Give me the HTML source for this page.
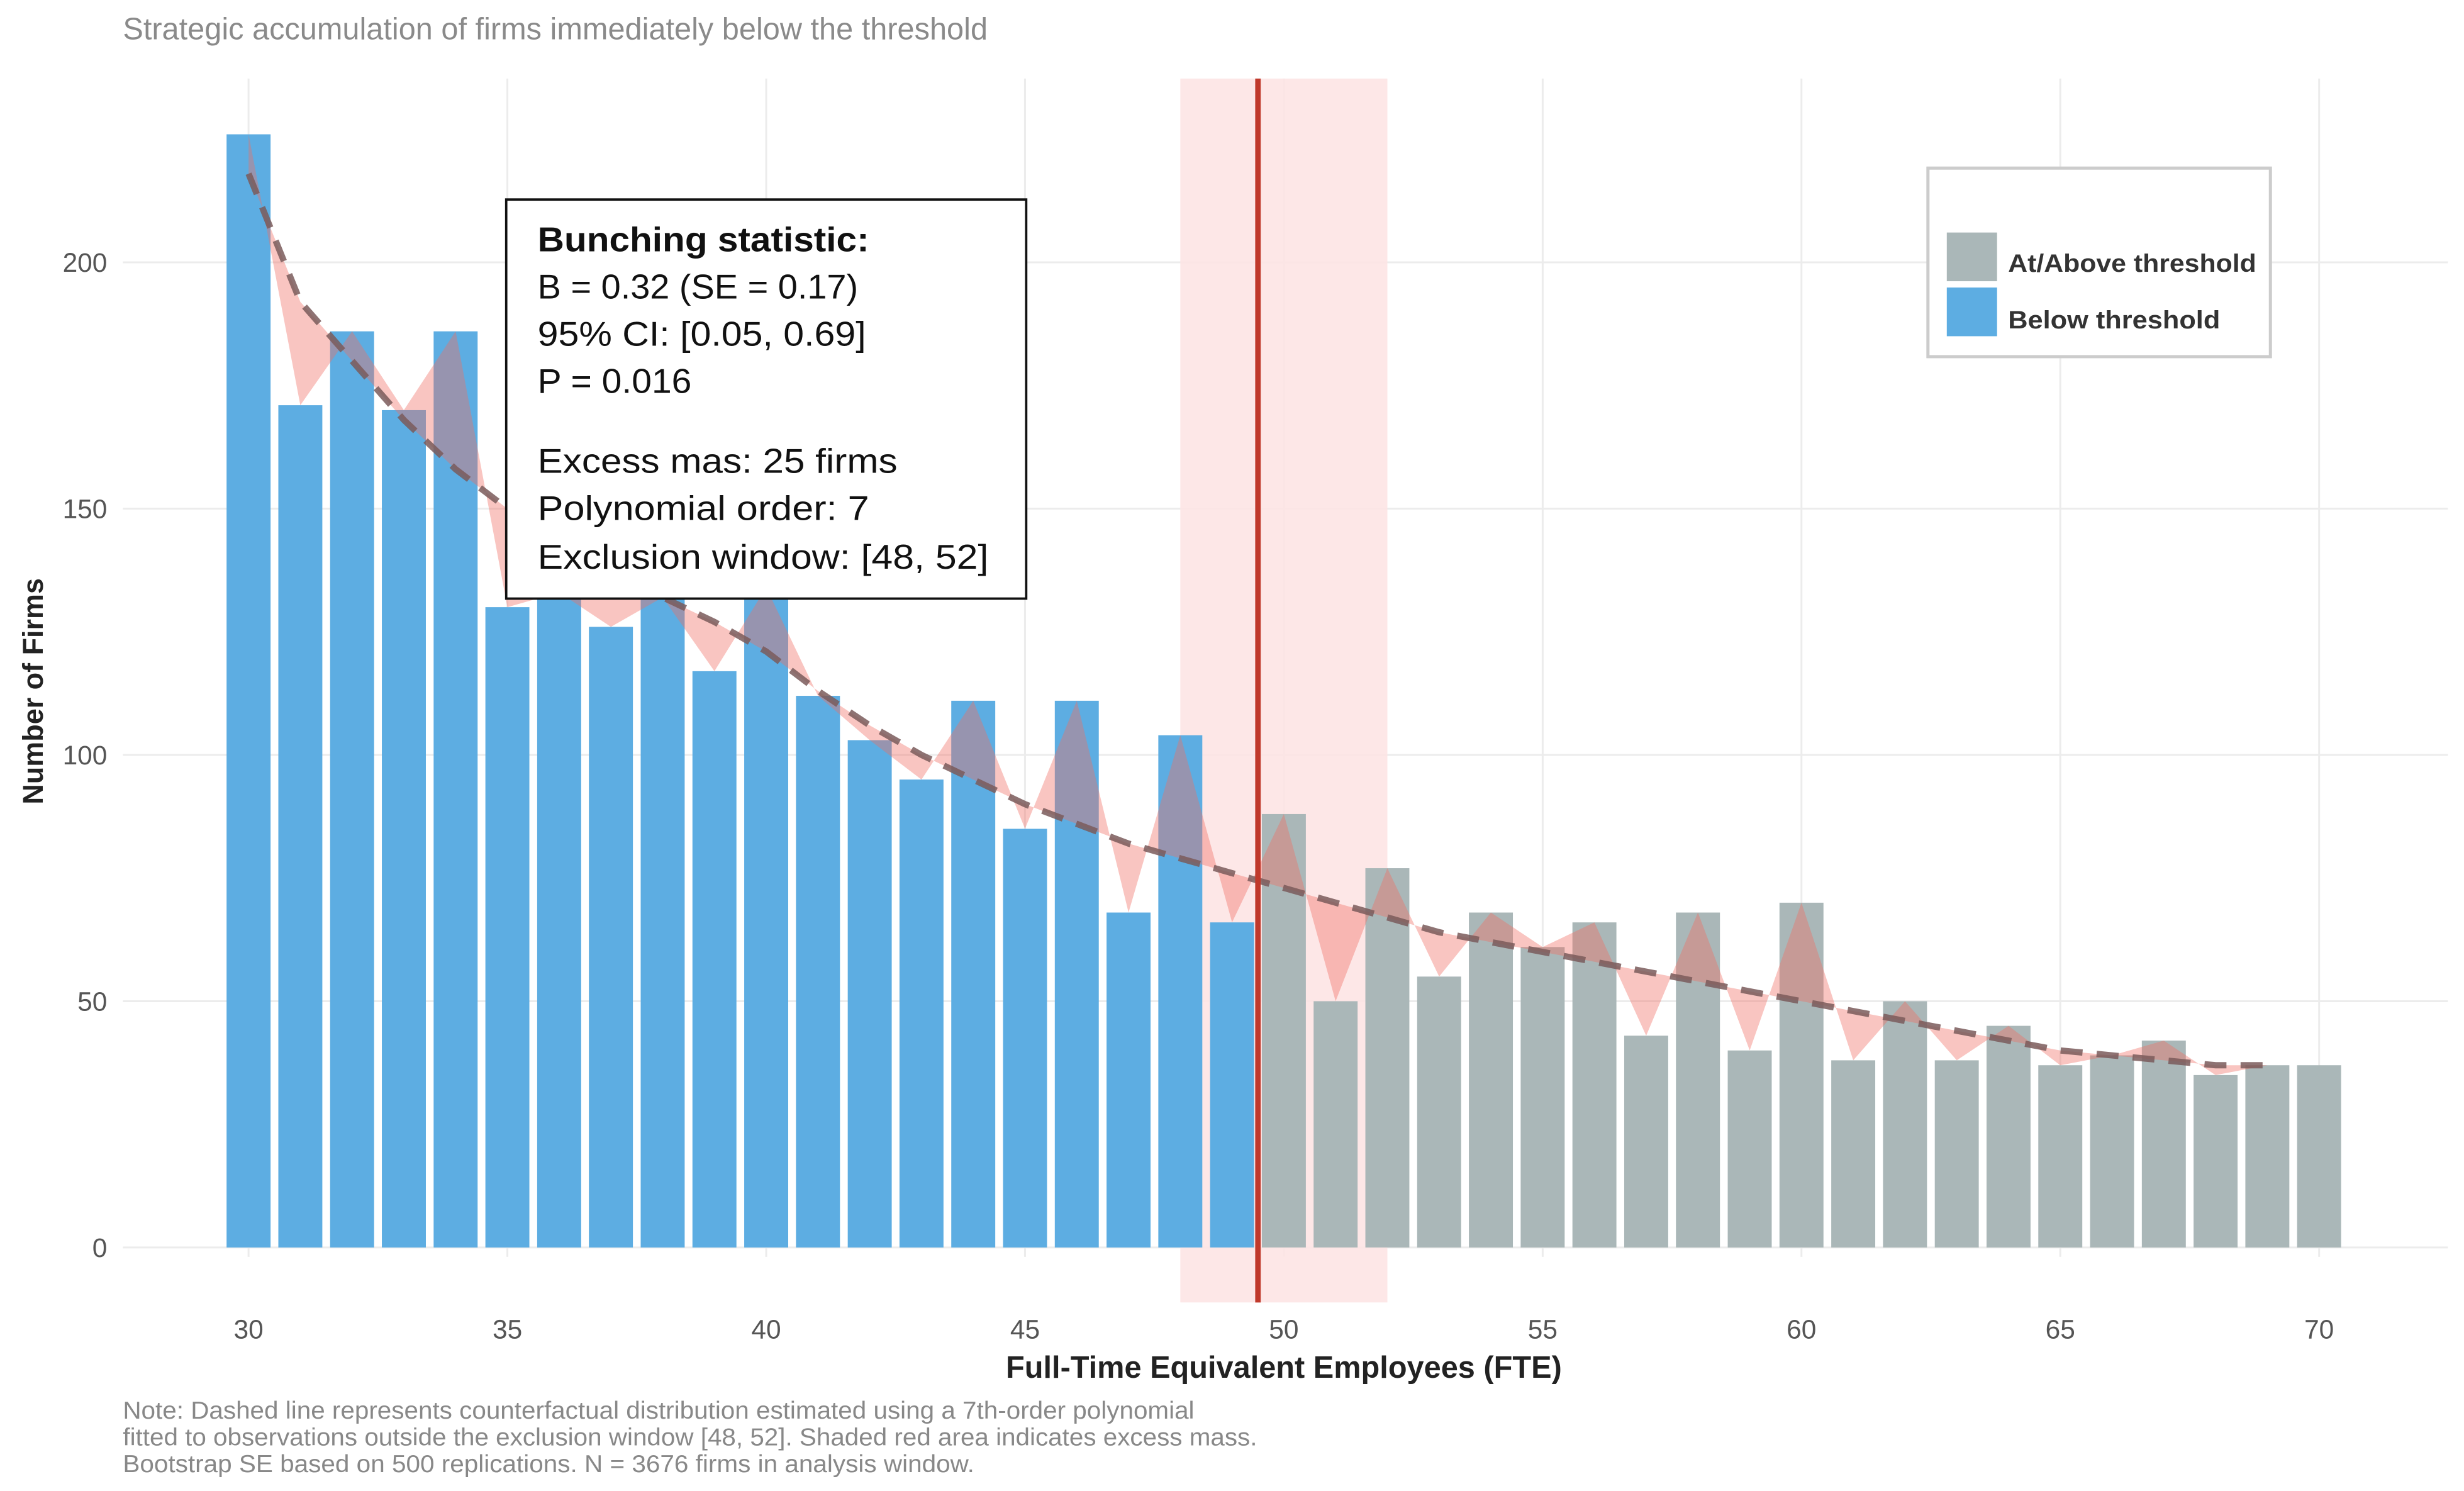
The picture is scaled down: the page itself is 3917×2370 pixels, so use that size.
<!DOCTYPE html>
<html><head><meta charset="utf-8"><style>
html,body{margin:0;padding:0;background:#fff;}
svg{display:block;}
text{font-family:"Liberation Sans",sans-serif;}
</style></head><body>
<svg id="chart" width="3917" height="2370" viewBox="0 0 1568 949" xmlns="http://www.w3.org/2000/svg">
<rect width="1568" height="949" fill="#fff"/>
<text x="78" y="25" font-size="19.5" fill="#8a8a8a">Strategic accumulation of firms immediately below the threshold</text>
<g id="grid"></g>
<rect id="band" fill="#fde4e4" opacity="0.9"/>
<g id="bars"></g>
<g id="excess"></g>
<g id="cf"></g>
<line id="thr" stroke="#c0392b" stroke-width="3.5"/>
<g id="axes"></g>
<text x="817" y="877" font-size="19.5" font-weight="bold" text-anchor="middle" fill="#222">Full-Time Equivalent Employees (FTE)</text>
<text transform="translate(27,440) rotate(-90)" font-size="18" font-weight="bold" text-anchor="middle" fill="#222">Number of Firms</text>
<g>
<rect x="322" y="127" width="331" height="254" fill="#fff" stroke="#111" stroke-width="1.5"/>
<text x="342" y="160" font-size="22" font-weight="bold" fill="#111" textLength="211" lengthAdjust="spacingAndGlyphs">Bunching statistic:</text>
<text x="342" y="190" font-size="22" fill="#111" textLength="204" lengthAdjust="spacingAndGlyphs">B = 0.32 (SE = 0.17)</text>
<text x="342" y="220" font-size="22" fill="#111" textLength="209" lengthAdjust="spacingAndGlyphs">95% CI: [0.05, 0.69]</text>
<text x="342" y="250" font-size="22" fill="#111" textLength="98" lengthAdjust="spacingAndGlyphs">P = 0.016</text>
<text x="342" y="301" font-size="22" fill="#111" textLength="229" lengthAdjust="spacingAndGlyphs">Excess mas: 25 firms</text>
<text x="342" y="331" font-size="22" fill="#111" textLength="211" lengthAdjust="spacingAndGlyphs">Polynomial order: 7</text>
<text x="342" y="362" font-size="22" fill="#111" textLength="287" lengthAdjust="spacingAndGlyphs">Exclusion window: [48, 52]</text>
</g>
<g>
<rect x="1227" y="107" width="218" height="120" fill="#fff" stroke="#ccc" stroke-width="2"/>
<rect x="1239" y="148" width="32" height="31" fill="#aab7b8"/>
<text x="1278" y="173" font-size="16" font-weight="bold" fill="#333" textLength="158" lengthAdjust="spacingAndGlyphs">At/Above threshold</text>
<rect x="1239" y="183" width="32" height="31" fill="#5dade2"/>
<text x="1278" y="209" font-size="16" font-weight="bold" fill="#333" textLength="135" lengthAdjust="spacingAndGlyphs">Below threshold</text>
</g>
<g font-size="15.5" fill="#888">
<text x="78" y="903" textLength="682" lengthAdjust="spacingAndGlyphs">Note: Dashed line represents counterfactual distribution estimated using a 7th-order polynomial</text>
<text x="78" y="920" textLength="722" lengthAdjust="spacingAndGlyphs">fitted to observations outside the exclusion window [48, 52]. Shaded red area indicates excess mass.</text>
<text x="78" y="937" textLength="542" lengthAdjust="spacingAndGlyphs">Bootstrap SE based on 500 replications. N = 3676 firms in analysis window.</text>
</g>
</svg>
<script>
const categories=[30,31,32,33,34,35,36,37,38,39,40,41,42,43,44,45,46,47,48,49,50,51,52,53,54,55,56,57,58,59,60,61,62,63,64,65,66,67,68,69,70];
const counts=[226,171,186,170,186,130,133,126,132,117,134,112,103,95,111,85,111,68,104,66,88,50,77,55,68,61,66,43,68,40,70,38,50,38,45,37,39,42,35,37,37];
const counterfactual=[218,192,180,168,158,150,143,137,132,127,121,113,106,100,95,90,86,82,79,76,73,70,67,64,62,60,58,56,54,52,50,48,46,44,42,40,39,38,37,37];
const yTicks=[0,50,100,150,200];
const xTicks=[30,35,40,45,50,55,60,65,70];
const threshold=49.5, windowLo=48, windowHi=52;
(function(){
const NS="http://www.w3.org/2000/svg";
const X=v=>158+(v-30)*32.95;
const Y=v=>794-v*3.135;
function mk(tag,parent,attrs){const e=document.createElementNS(NS,tag);for(const k in attrs)e.setAttribute(k,attrs[k]);document.getElementById(parent).appendChild(e);return e;}
yTicks.forEach(t=>{
 const l=mk('line','grid',{x1:78,x2:1558,y1:Y(t),y2:Y(t),stroke:'#ececec','stroke-width':1.2});
 
 
 const tx=mk('text','axes',{x:68,y:Y(t)+6,'font-size':17,'text-anchor':'end',fill:'#555'});tx.textContent=t;
 
 
});
xTicks.forEach(t=>{
 const l=mk('line','grid',{x1:X(t),x2:X(t),y1:50,y2:800,stroke:'#ececec','stroke-width':1.2});
 
 
 const tx=mk('text','axes',{x:X(t),y:852,'font-size':17,'text-anchor':'middle',fill:'#555'});tx.textContent=t;
 
 
});
const band=document.getElementById('band');
band.setAttribute('x',X(windowLo));band.setAttribute('y',50);band.setAttribute('width',X(windowHi)-X(windowLo));band.setAttribute('height',779);
categories.forEach((c,i)=>{
 const r=mk('rect','bars',{x:X(c)-14,y:Y(counts[i]),width:28,height:Y(0)-Y(counts[i]),fill:c<threshold?'#5dade2':'#aab7b8'});
 
 
});
const upper=[],lower=[];
counterfactual.forEach((v,i)=>{upper.push(X(categories[i])+','+Y(counts[i]));lower.unshift(X(categories[i])+','+Y(v));});
const poly=mk('polygon','excess',{points:upper.concat(lower).join(' '),fill:'rgba(240,110,100,0.4)'});


const pl=mk('polyline','cf',{points:counterfactual.map((v,i)=>X(categories[i])+','+Y(v)).join(' '),fill:'none',stroke:'#7a5a5a','stroke-width':4,'stroke-dasharray':'14 9',opacity:0.85});


const thr=document.getElementById('thr');
thr.setAttribute('x1',X(threshold));thr.setAttribute('x2',X(threshold));thr.setAttribute('y1',50);thr.setAttribute('y2',829);
})();
</script>
</body></html>
